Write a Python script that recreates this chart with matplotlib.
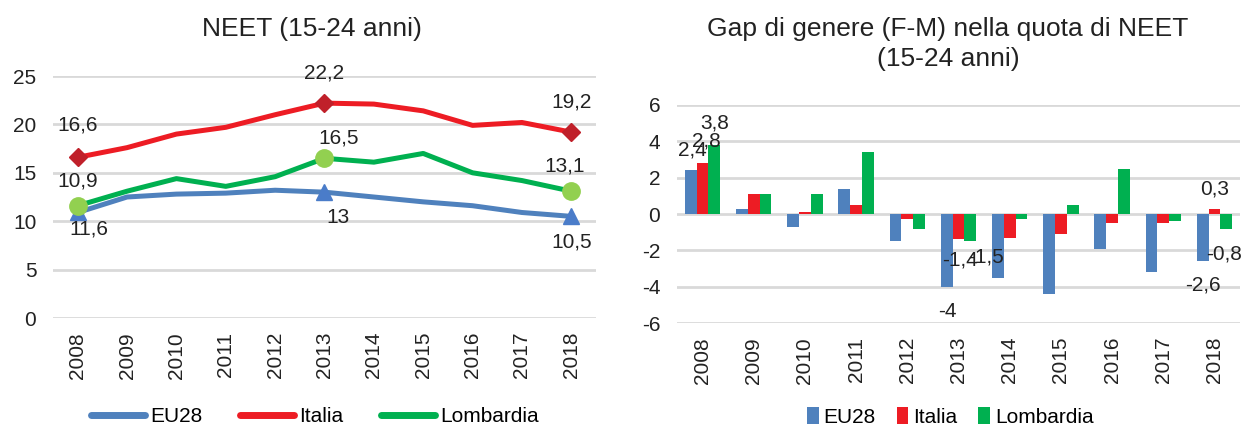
import matplotlib
matplotlib.use("Agg")
import matplotlib.pyplot as plt
from matplotlib.lines import Line2D
import numpy as np

plt.rcParams['font.family'] = ['Liberation Sans', 'DejaVu Sans']
plt.rcParams['axes.unicode_minus'] = False

# data
years = ['2008', '2009', '2010', '2011', '2012', '2013', '2014', '2015', '2016', '2017', '2018']
neet_eu28 = [10.9, 12.5, 12.8, 12.9, 13.2, 13.0, 12.5, 12.0, 11.6, 10.9, 10.5]
neet_italia = [16.6, 17.6, 19.0, 19.7, 21.0, 22.2, 22.1, 21.4, 19.9, 20.2, 19.2]
neet_lombardia = [11.6, 13.1, 14.4, 13.6, 14.6, 16.5, 16.1, 17.0, 15.0, 14.2, 13.1]

gap_eu28 = [2.4, 0.3, -0.7, 1.4, -1.5, -4.0, -3.5, -4.4, -1.9, -3.2, -2.6]
gap_italia = [2.8, 1.1, 0.1, 0.5, -0.3, -1.4, -1.3, -1.1, -0.5, -0.5, 0.3]
gap_lombardia = [3.8, 1.1, 1.1, 3.4, -0.8, -1.5, -0.3, 0.5, 2.5, -0.4, -0.8]

c_eu, c_it, c_lo = '#4F81BD', '#ED1C24', '#00B050'
grid_c = '#D9D9D9'
txt_c = '#222222'
fs = 15

fig = plt.figure(figsize=(12.44, 4.28), dpi=100)
x = np.arange(len(years))


def fmt(v):
    s = ('%.1f' % v).rstrip('0').rstrip('.')
    return s.replace('.', ',')


def style(ax):
    for sp in ax.spines.values():
        sp.set_visible(False)
    ax.yaxis.grid(True, color=grid_c, linewidth=2)
    ax.set_axisbelow(True)
    ax.tick_params(axis='both', length=0, labelsize=fs, colors=txt_c)
    ax.tick_params(axis='y', pad=12)
    ax.tick_params(axis='x', pad=10)
    ax.set_xticks(x)
    ax.set_xticklabels(years, rotation=90)
    ax.set_xlim(-0.5, len(years) - 0.5)


# left: line chart
ax1 = fig.add_axes([0.0426, 0.257, 0.4365, 0.5654])
style(ax1)
ax1.set_ylim(0, 25)
ax1.set_yticks([0, 5, 10, 15, 20, 25])
mk = [0, 5, 10]
ax1.plot(x, neet_eu28, color=c_eu, lw=3.6, marker='^', ms=12, markevery=mk,
         mfc='#4A7CC9', mec='#4A7CC9', zorder=3)
ax1.plot(x, neet_italia, color=c_it, lw=3.6, marker='D', ms=9.5, markevery=mk,
         mfc='#C0202A', mec='#C0202A', zorder=3)
ax1.plot(x, neet_lombardia, color=c_lo, lw=3.6, marker='o', ms=12.5, markevery=mk,
         mfc='#92D050', mec='#92D050', zorder=4)
fig.text(0.251, 0.933, 'NEET (15-24 anni)', ha='center', va='center', fontsize=19, color=txt_c)

line_labels = [
    (neet_italia, 0, 0, 32), (neet_italia, 5, 0, 30), (neet_italia, 10, 0, 30),
    (neet_eu28, 0, 0, 31), (neet_eu28, 5, 14, -25), (neet_eu28, 10, 0, -26),
    (neet_lombardia, 0, 11, -23), (neet_lombardia, 5, 14, 20), (neet_lombardia, 10, -7, 25),
]
for ser, i, dx, dy in line_labels:
    ax1.annotate(fmt(ser[i]), (x[i], ser[i]), xytext=(dx, dy), textcoords='offset pixels',
                 ha='center', va='center', fontsize=fs, color=txt_c, zorder=5)

line_handles = [Line2D([], [], color=c, lw=5, solid_capstyle='round') for c in (c_eu, c_it, c_lo)]
fig.legend(handles=line_handles, labels=['EU28', 'Italia', 'Lombardia'],
           loc='center', bbox_to_anchor=(0.253, 0.026), ncol=3, frameon=False,
           fontsize=fs, handlelength=2.6, handletextpad=0.25, columnspacing=1.8)

# right: bar chart
ax2 = fig.add_axes([0.5442, 0.2453, 0.4526, 0.5094])
style(ax2)
ax2.set_ylim(-6, 6)
ax2.set_yticks([-6, -4, -2, 0, 2, 4, 6])
w = 0.23
b1 = ax2.bar(x - w, gap_eu28, w, color=c_eu)
b2 = ax2.bar(x, gap_italia, w, color=c_it)
b3 = ax2.bar(x + w, gap_lombardia, w, color=c_lo)
fig.text(0.762, 0.898, 'Gap di genere (F-M) nella quota di NEET\n(15-24 anni)',
         ha='center', va='center', fontsize=19, linespacing=1.3, color=txt_c)

bar_labels = [
    (gap_eu28, -w, 0, 2, 20), (gap_italia, 0, 0, 4, 22), (gap_lombardia, w, 0, 0, 22),
    (gap_eu28, -w, 5, 1, -25), (gap_italia, 0, 5, 1, -21), (gap_lombardia, w, 5, 16, -16),
    (gap_eu28, -w, 10, 0, -24), (gap_italia, 0, 10, 0, 20), (gap_lombardia, w, 10, -2, -25),
]
for ser, off, i, dx, dy in bar_labels:
    ax2.annotate(fmt(ser[i]), (x[i] + off, ser[i]), xytext=(dx, dy), textcoords='offset pixels',
                 ha='center', va='center', fontsize=fs, color=txt_c, zorder=5,
                 annotation_clip=False)

fig.legend(handles=[b1, b2, b3], labels=['EU28', 'Italia', 'Lombardia'],
           loc='center', bbox_to_anchor=(0.764, 0.026), ncol=3, frameon=False,
           fontsize=fs, handlelength=0.55, handleheight=0.9, handletextpad=0.25,
           columnspacing=1.0)

fig.savefig('out.png', dpi=100)
